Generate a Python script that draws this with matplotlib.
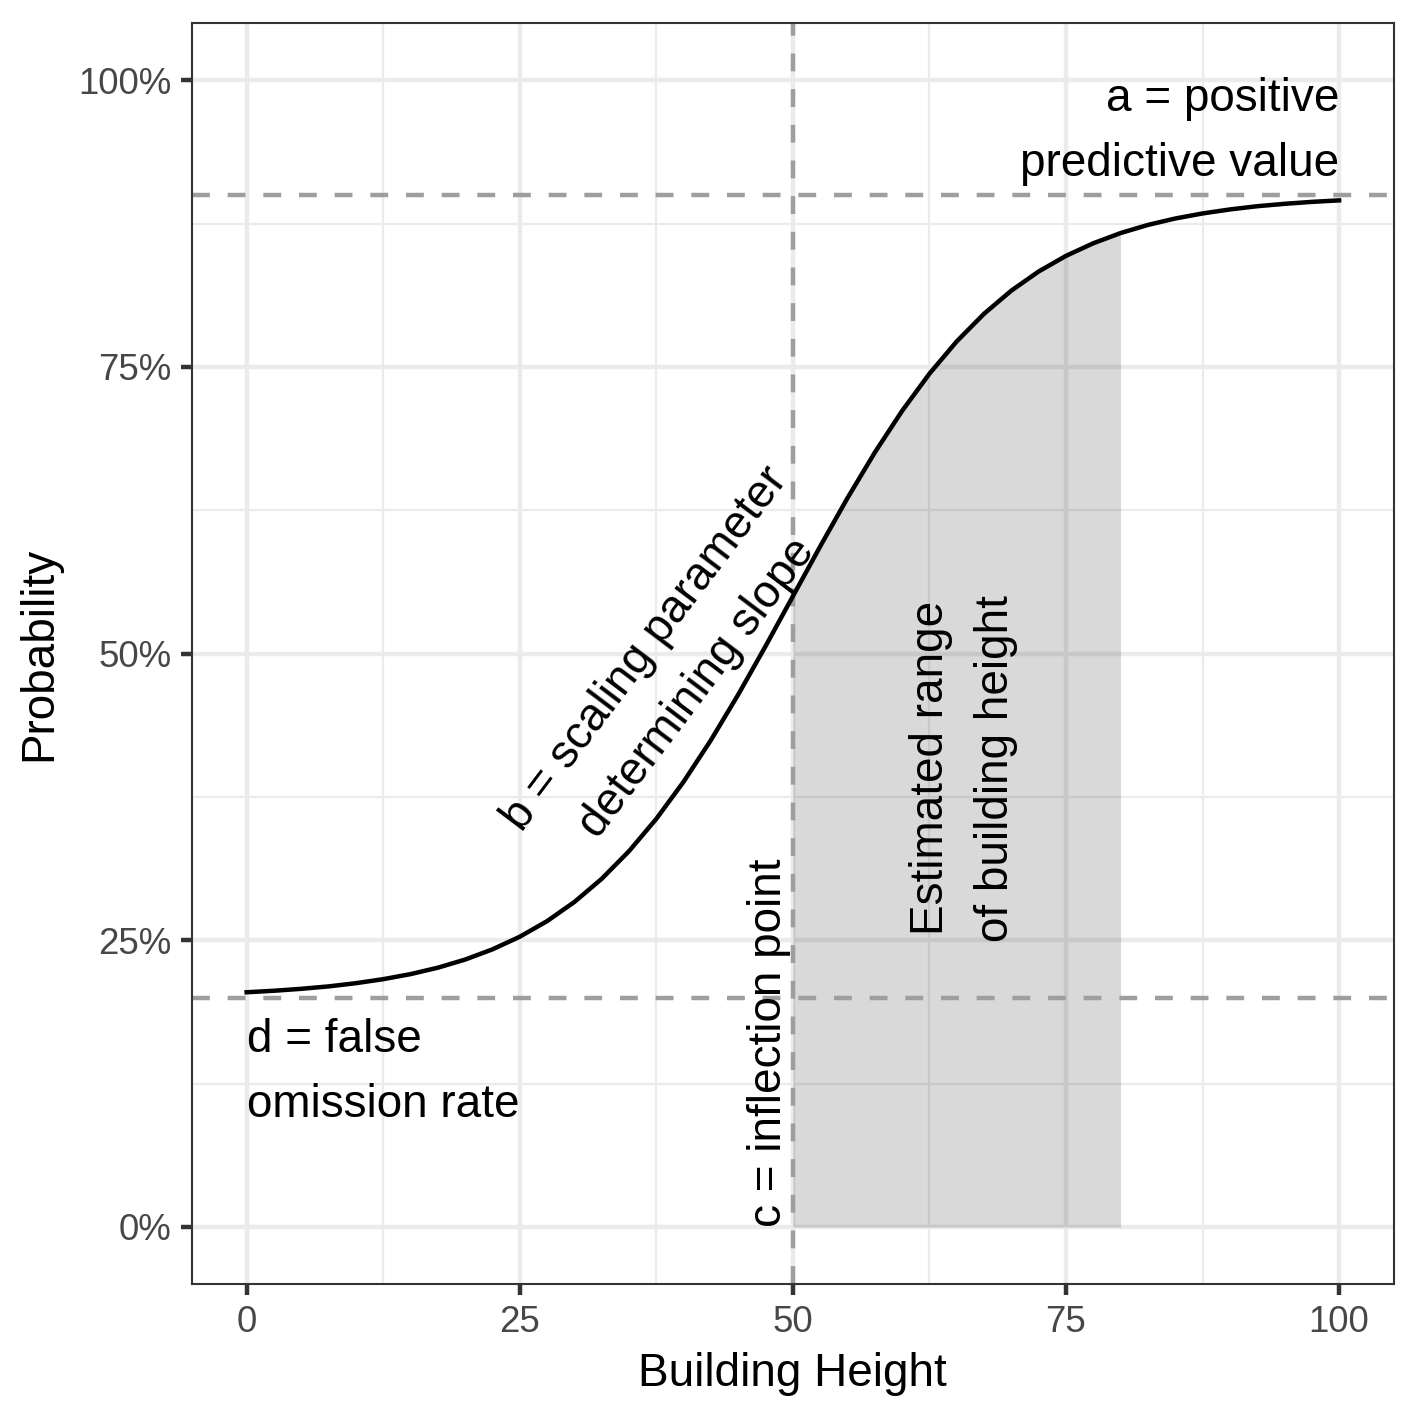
import numpy as np
import matplotlib.pyplot as plt

plt.rcParams['font.family'] = ['Liberation Sans', 'DejaVu Sans']

# curve (probability vs building height)
height = [0, 2.5, 5, 7.5, 10, 12.5, 15, 17.5, 20, 22.5,
          25, 27.5, 30, 32.5, 35, 37.5, 40, 42.5, 45, 47.5,
          50, 52.5, 55, 57.5, 60, 62.5, 65, 67.5, 70, 72.5,
          75, 77.5, 80, 82.5, 85, 87.5, 90, 92.5, 95, 97.5, 100]
prob = [0.2047, 0.2060, 0.2077, 0.2098, 0.2126, 0.2161, 0.2205, 0.2261, 0.2332, 0.2421,
        0.2531, 0.2667, 0.2834, 0.3036, 0.3277, 0.3559, 0.3883, 0.4246, 0.4643, 0.5065,
        0.5500, 0.5935, 0.6357, 0.6754, 0.7117, 0.7441, 0.7723, 0.7964, 0.8166, 0.8333,
        0.8469, 0.8579, 0.8668, 0.8739, 0.8795, 0.8839, 0.8874, 0.8902, 0.8923, 0.8940, 0.8953]

# reference lines and shaded range
upper = 0.9      # a
lower = 0.2      # d
inflection = 50  # c
range_lo, range_hi = 50, 80

x_ticks = [0, 25, 50, 75, 100]
y_ticks = [0, 0.25, 0.5, 0.75, 1.0]
y_labels = ['0%', '25%', '50%', '75%', '100%']

height = np.array(height)
prob = np.array(prob)

fig = plt.figure(figsize=(1417 / 300, 1417 / 300), dpi=300)
ax = fig.add_axes([192 / 1417, 1 - 1284.3 / 1417, (1393.7 - 192) / 1417, (1284.3 - 23) / 1417])

ax.set_xlim(-5, 105)
ax.set_ylim(-0.05, 1.05)

# grid like theme_bw
ax.set_xticks(x_ticks)
ax.set_yticks(y_ticks)
ax.set_yticklabels(y_labels)
ax.set_xticks([12.5, 37.5, 62.5, 87.5], minor=True)
ax.set_yticks([0.125, 0.375, 0.625, 0.875], minor=True)
ax.grid(which='major', color='#EBEBEB', lw=1.07, zorder=0)
ax.grid(which='minor', color='#EBEBEB', lw=0.53, zorder=0)
ax.set_axisbelow(True)
ax.tick_params(which='minor', length=0)
ax.tick_params(which='major', direction='out', length=2.75, width=1.07, color='#333333',
               labelsize=8.8, labelcolor='#474747', pad=2.2)
for s in ax.spines.values():
    s.set_color('#333333')
    s.set_linewidth(0.5)

# shaded estimated range under the curve
sel = (height >= range_lo) & (height <= range_hi)
ax.fill_between(height[sel], 0, prob[sel], color='black', alpha=0.15, lw=0, zorder=1)

# dashed reference lines
dash = dict(color='#9E9E9E', lw=1.07, ls=(0, (4, 4)), zorder=2)
ax.axhline(upper, **dash)
ax.axhline(lower, **dash)
ax.axvline(inflection, **dash)

ax.plot(height, prob, color='black', lw=1.07, zorder=3)

# annotations
ax.text(100, 0.908, 'a = positive\npredictive value', ha='right', va='bottom',
        multialignment='right', fontsize=11, linespacing=1.62)
ax.text(0, 0.182, 'd = false\nomission rate', ha='left', va='top',
        fontsize=11, linespacing=1.62)
ax.text(49.8, 0.0, 'c = inflection point', rotation=90, ha='right', va='bottom',
        fontsize=11)
ax.text(65.6, 0.40, 'Estimated range\nof building height', rotation=90, ha='center',
        va='center', multialignment='center', fontsize=11, linespacing=1.62)
ax.text(38.9, 0.487, 'b = scaling parameter\ndetermining slope', rotation=53,
        rotation_mode='anchor', ha='center', va='center', multialignment='center',
        fontsize=11, linespacing=1.62)

ax.set_xlabel('Building Height', fontsize=11, labelpad=3)
ax.set_ylabel('Probability', fontsize=11, labelpad=4)

fig.savefig('out.png', dpi=300)
